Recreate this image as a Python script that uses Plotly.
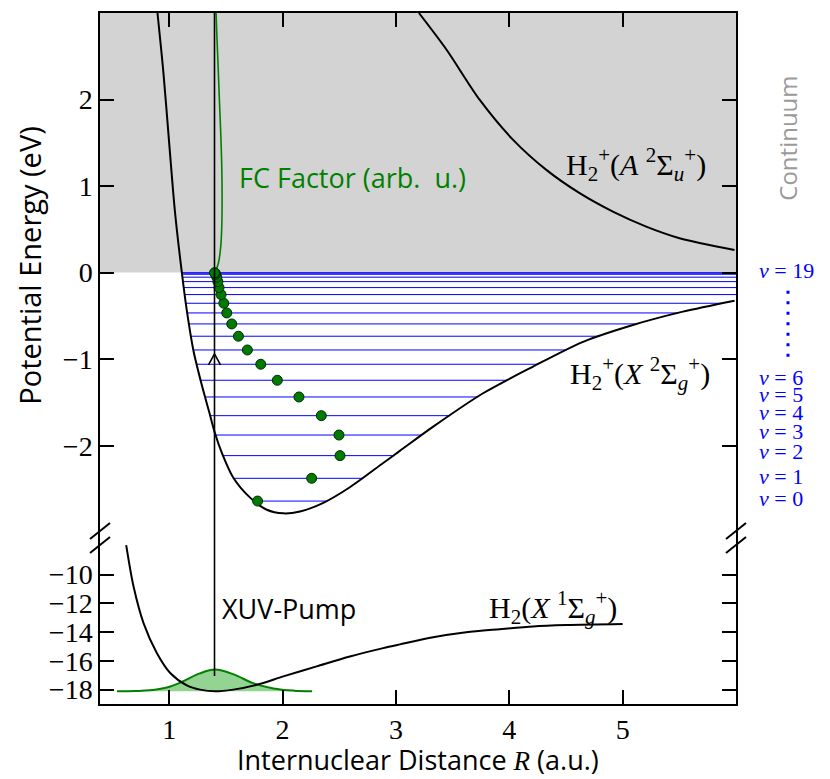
import numpy as np
import plotly.graph_objects as go

# ---------------- data ----------------
# H2+ X 2Sigma_g+ potential (R in a.u., E in eV)
X_R = [0.897, 0.950, 1.000, 1.050, 1.112, 1.156, 1.214, 1.288, 1.355, 1.405, 1.464,
       1.566, 1.714, 1.861, 2.007, 2.154, 2.360, 2.594, 2.888, 3.035, 3.329, 3.769,
       4.210, 4.651, 5.091, 5.532, 5.987]
X_E = [3.0, 2.30, 1.50, 0.72, 0.0, -0.44, -0.90, -1.30, -1.62, -1.86, -2.08,
       -2.37, -2.60, -2.74, -2.782, -2.76, -2.66, -2.48, -2.20, -2.06, -1.78, -1.394,
       -1.086, -0.80, -0.605, -0.451, -0.324]

# H2+ A 2Sigma_u+ potential
A_R = [3.203, 3.447, 3.740, 4.034, 4.327, 4.621, 4.914, 5.208, 5.502, 5.987]
A_E = [3.0, 2.575, 1.995, 1.534, 1.187, 0.918, 0.705, 0.532, 0.398, 0.262]

# H2 X 1Sigma_g+ potential
G_R = [0.621, 0.686, 0.774, 0.891, 1.009, 1.156, 1.273, 1.405, 1.566, 1.773, 2.007,
       2.301, 2.594, 2.888, 3.035, 3.329, 3.62, 3.916, 4.21, 4.504, 5.0]
G_E = [-7.94, -10.83, -13.37, -15.45, -16.84, -17.70, -18.0, -18.12, -18.0, -17.66,
       -17.08, -16.38, -15.69, -15.11, -14.85, -14.35, -14.0, -13.79, -13.6, -13.51,
       -13.44]

# ground-state wave packet (green filled)
WP_R = [0.54, 0.70, 0.83, 0.98, 1.11, 1.27, 1.405, 1.57, 1.74, 1.92, 2.10, 2.26]
WP_E = [-18.12, -18.10, -18.05, -17.85, -17.47, -16.87, -16.6, -16.94, -17.55,
        -17.92, -18.07, -18.11]

# vibrational levels v = 0..19 of H2+
LEV_V = list(range(20))
LEV_E = [-2.64, -2.377, -2.115, -1.877, -1.653, -1.437, -1.244, -1.059, -0.894,
         -0.735, -0.593, -0.466, -0.354, -0.254, -0.173, -0.104, -0.053, -0.019,
         -0.006, -0.002]
# Franck-Condon factor markers (position along R)
FC_R = [1.78, 2.257, 2.507, 2.498, 2.342, 2.145, 1.954, 1.808, 1.690, 1.611, 1.552,
        1.508, 1.482, 1.458, 1.44, 1.43, 1.42, 1.41, 1.405, 1.40]
# FC factor into the continuum
FCC_R = [1.405, 1.434, 1.455, 1.464, 1.467, 1.464, 1.455, 1.443, 1.432, 1.42, 1.414]
FCC_E = [0.0, 0.108, 0.30, 0.53, 0.84, 1.225, 1.61, 2.0, 2.38, 2.77, 3.0]

# labels at the right
VLAB_TEXT = ["19", "6", "5", "4", "3", "2", "1", "0"]
VLAB_E = [0.03, -1.214, -1.414, -1.622, -1.838, -2.069, -2.358, -2.608]

PUMP_R = 1.40
PUMP_E0 = -17.05
ARROW_E = -0.94

X_RANGE = [0.39, 6.0]
Y_UP_RANGE = [-3.067, 3.0]
Y_LO_RANGE = [-19.0, -7.45]
X_TICKS = [1, 2, 3, 4, 5]
Y_UP_TICKS = [-2, -1, 0, 1, 2]
Y_LO_TICKS = [-18, -16, -14, -12, -10]

SERIF = "Liberation Serif"
SANS = "Open Sans"
SPLIT = 0.2402
RIGHT_COL = (788 - 100) / 636   # paper x of the dots / Continuum column

# ---------------- figure ----------------
fig = go.Figure()

# vibrational level lines between turning points of the X curve
xr = np.array(X_R); xe = np.array(X_E)
imin = int(np.argmin(xe))
left_R, left_E = xr[:imin + 1], xe[:imin + 1]
right_R, right_E = xr[imin:], xe[imin:]
lx, ly = [], []
for e in LEV_E:
    r0 = float(np.interp(e, left_E[::-1], left_R[::-1]))
    r1 = float(np.interp(e, right_E, right_R, right=X_RANGE[1]))
    lx += [r0, r1, None]
    ly += [e, e, None]
fig.add_trace(go.Scatter(x=lx, y=ly, mode="lines", line=dict(color="blue", width=1),
                         xaxis="x2", yaxis="y2", hoverinfo="skip"))

# potentials upper panel
fig.add_trace(go.Scatter(x=X_R, y=X_E, mode="lines",
                         line=dict(color="black", width=2, shape="spline", smoothing=0.8),
                         xaxis="x2", yaxis="y2"))
fig.add_trace(go.Scatter(x=A_R, y=A_E, mode="lines",
                         line=dict(color="black", width=2, shape="spline", smoothing=0.8),
                         xaxis="x2", yaxis="y2"))
# FC continuum curve
fig.add_trace(go.Scatter(x=FCC_R, y=FCC_E, mode="lines",
                         line=dict(color="#008000", width=1.6, shape="spline"),
                         xaxis="x2", yaxis="y2"))
# FC dots
fig.add_trace(go.Scatter(x=FC_R, y=LEV_E, mode="markers",
                         marker=dict(color="#007a00", size=10, line=dict(color="#002a00", width=1)),
                         xaxis="x2", yaxis="y2"))

# lower panel
fig.add_trace(go.Scatter(x=WP_R, y=WP_E, mode="lines", fill="toself",
                         fillcolor="rgba(40,170,40,0.5)",
                         line=dict(color="#008000", width=2, shape="spline"),
                         xaxis="x", yaxis="y"))
fig.add_trace(go.Scatter(x=G_R, y=G_E, mode="lines",
                         line=dict(color="black", width=2, shape="spline", smoothing=0.8),
                         xaxis="x", yaxis="y"))

shapes = []
# continuum shading
shapes.append(dict(type="rect", xref="x2 domain", x0=0, x1=1, yref="y2", y0=0, y1=Y_UP_RANGE[1],
                   fillcolor="#d3d3d3", line=dict(width=0), layer="below"))
# pump line
shapes.append(dict(type="line", xref="x2", x0=PUMP_R, x1=PUMP_R, yref="y2 domain", y0=0, y1=1,
                   line=dict(color="black", width=1.6)))
shapes.append(dict(type="line", xref="x", x0=PUMP_R, x1=PUMP_R, yref="y", y0=PUMP_E0, y1=Y_LO_RANGE[1],
                   line=dict(color="black", width=1.6)))
# arrow head
shapes.append(dict(type="path", xref="x2", yref="y2", xsizemode="pixel", ysizemode="pixel",
                   xanchor=PUMP_R, yanchor=ARROW_E, path="M -6,-11 L 0,0 L 6,-11",
                   line=dict(color="black", width=1.6)))
# axis break marks
for xp in (0, 1):
    for off in (7, -7):
        shapes.append(dict(type="line", xref="paper", yref="paper", xsizemode="pixel", ysizemode="pixel",
                           xanchor=xp, yanchor=SPLIT, x0=-10, y0=off - 8, x1=10, y1=off + 8,
                           line=dict(color="black", width=2)))
# vertical dots between v labels
shapes.append(dict(type="line", xref="paper", yref="paper", x0=RIGHT_COL, x1=RIGHT_COL,
                   y0=0.5026, y1=0.5996,
                   line=dict(color="blue", width=3, dash="3px,7.5px")))
fig.update_layout(shapes=shapes)

MATH = 30
ann = []
ann.append(dict(text="FC Factor (arb.  u.)", x=1.60, y=1.10, xref="x2", yref="y2", xanchor="left",
                yanchor="middle", showarrow=False, font=dict(family=SANS, size=27, color="#008000")))
ann.append(dict(text="H<sub>2</sub><sup>+</sup>(<i>A</i> <sup>2</sup>Σ<sub><i>u</i></sub><sup>+</sup>)",
                x=5.75, y=1.25, xref="x2", yref="y2", xanchor="right", yanchor="middle",
                showarrow=False, font=dict(family=SERIF, size=MATH, color="black")))
ann.append(dict(text="H<sub>2</sub><sup>+</sup>(<i>X</i> <sup>2</sup>Σ<sub><i>g</i></sub><sup>+</sup>)",
                x=5.79, y=-1.17, xref="x2", yref="y2", xanchor="right", yanchor="middle",
                showarrow=False, font=dict(family=SERIF, size=MATH, color="black")))
ann.append(dict(text="H<sub>2</sub>(<i>X</i> <sup>1</sup>Σ<sub><i>g</i></sub><sup>+</sup>)",
                x=4.97, y=-12.25, xref="x", yref="y", xanchor="right", yanchor="middle",
                showarrow=False, font=dict(family=SERIF, size=MATH, color="black")))
ann.append(dict(text="XUV-Pump", x=1.449, y=-12.33, xref="x", yref="y", xanchor="left", yanchor="middle",
                showarrow=False, font=dict(family=SANS, size=27, color="black")))
ann.append(dict(text="Continuum", x=RIGHT_COL, y=(704.3 - 139) / 691, xref="paper", yref="paper",
                xanchor="center", yanchor="middle",
                textangle=-90, showarrow=False, font=dict(family=SANS, size=24, color="#9a9a9a")))
for t, e in zip(VLAB_TEXT, VLAB_E):
    ann.append(dict(text="<i>v</i> = " + t, x=1.0346, y=e, xref="paper", yref="y2", xanchor="left",
                    yanchor="middle", showarrow=False, borderpad=0,
                    font=dict(family=SERIF, size=22, color="blue")))
ann.append(dict(text="Potential Energy (eV)", x=(30 - 100) / 636, y=(704.3 - 266) / 691,
                xref="paper", yref="paper", xanchor="center", yanchor="middle",
                textangle=-90, showarrow=False, font=dict(family=SANS, size=29, color="black")))
ann.append(dict(text="Internuclear Distance <span style='font-family:Liberation Serif'><i>R</i></span> (a.u.)",
                x=0.5, y=(704.3 - 760) / 691, xref="paper", yref="paper", xanchor="center", yanchor="middle",
                showarrow=False, borderpad=0, font=dict(family=SANS, size=27, color="black")))
fig.update_layout(annotations=ann)

axis_common = dict(showgrid=False, zeroline=False, showline=True, linecolor="black", linewidth=1.5,
                   ticks="inside", ticklen=14, tickwidth=1.5, tickcolor="black",
                   tickfont=dict(family=SERIF, size=28, color="black"))
fig.update_layout(
    width=830, height=779,
    margin=dict(l=100, r=94, t=13, b=75),
    paper_bgcolor="white", plot_bgcolor="white",
    showlegend=False,
    xaxis=dict(domain=[0, 1], anchor="y", range=X_RANGE, tickvals=X_TICKS, side="bottom", **axis_common),
    xaxis2=dict(domain=[0, 1], anchor="y2", matches="x", range=X_RANGE, tickvals=X_TICKS, side="top",
                showticklabels=False, **axis_common),
    yaxis=dict(domain=[0, SPLIT], anchor="x", range=Y_LO_RANGE, tickvals=Y_LO_TICKS, mirror="ticks",
               **axis_common),
    yaxis2=dict(domain=[SPLIT, 1], anchor="x2", range=Y_UP_RANGE, tickvals=Y_UP_TICKS, mirror="ticks",
                **axis_common),
)

fig.write_html("out.html")
